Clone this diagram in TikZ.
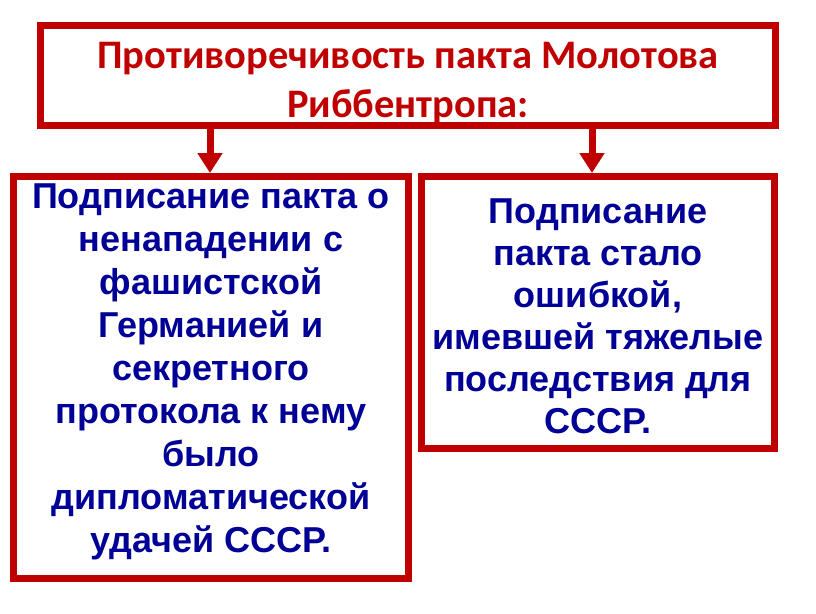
\documentclass[tikz,border=0pt]{standalone}
\usepackage{fontspec}
\setmainfont{Liberation Sans}
\newfontfamily\titlefont{Carlito}
\usetikzlibrary{arrows.meta,positioning}
\definecolor{boxred}{RGB}{192,0,0}
\definecolor{textblue}{RGB}{0,0,150}
\begin{document}
\begin{tikzpicture}[x=1pt,y=-1pt]
  \tikzstyle{every node}=[rectangle, draw=boxred, line width=7pt, align=center, inner sep=0pt]
  \tikzstyle{txt}=[draw=none, text=textblue, font=\bfseries\fontsize{36}{43}\selectfont]
  \tikzstyle{arr}=[draw=boxred, line width=7pt, -{Triangle[width=24pt,length=20pt]}]
  \useasboundingbox (0,0) rectangle (816,613);
    \node[minimum width=735pt, minimum height=100pt] (T) at (408,75.5) {};
    \node[minimum width=395pt, minimum height=402pt] (L) at (211,377.5) {};
    \node[minimum width=353pt, minimum height=272pt] (R) at (598,312.5) {};
    \node[txt, text=boxred, font=\titlefont\bfseries\fontsize{40.5}{49}\selectfont] (Ttext)
          at ([yshift=-8pt]T.center) {Противоречивость пакта Молотова\\Риббентропа:};
    \node[txt] (Ltext) at ([yshift=6pt]L.center)
          {Подписание пакта о\\ненападении с\\фашистской\\Германией и\\секретного\\протокола к нему\\было\\дипломатической\\удачей СССР.};
    \node[txt, font=\bfseries\fontsize{36}{42}\selectfont] (Rtext) at ([yshift=-4pt]R.center)
          {Подписание\\пакта стало\\ошибкой,\\имевшей тяжелые\\последствия для\\СССР.};
    \draw[arr] ([xshift=-1pt]T.south -| L.north) -- ([xshift=-1pt]L.north);
    \draw[arr] ([xshift=-6pt]T.south -| R.north) -- ([xshift=-6pt]R.north);
  \end{tikzpicture}
\end{document}
